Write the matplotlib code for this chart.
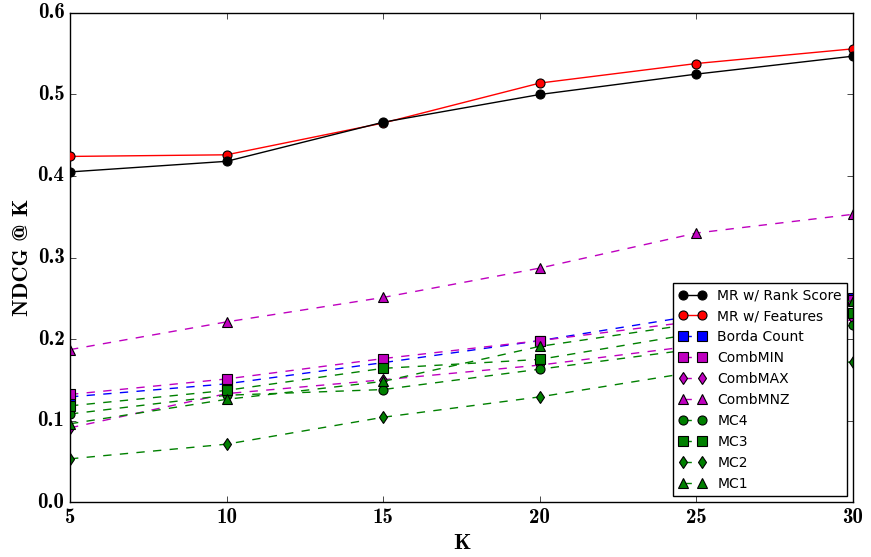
import matplotlib
matplotlib.use("Agg")
import matplotlib.pyplot as plt

plt.style.use('classic')
plt.rcParams['font.family'] = ['DejaVu Sans']
plt.rcParams['axes.formatter.useoffset'] = False

# data
K = [5, 10, 15, 20, 25, 30]
mr_rank = [0.405, 0.418, 0.466, 0.500, 0.525, 0.547]
mr_feat = [0.424, 0.426, 0.465, 0.514, 0.538, 0.556]
borda = [0.129, 0.145, 0.171, 0.198, 0.229, 0.250]
comb_min = [0.132, 0.151, 0.176, 0.198, 0.222, 0.248]
comb_max = [0.091, 0.133, 0.150, 0.168, 0.192, 0.224]
comb_mnz = [0.187, 0.221, 0.251, 0.287, 0.330, 0.353]
mc4 = [0.108, 0.131, 0.138, 0.163, 0.188, 0.217]
mc3 = [0.118, 0.137, 0.164, 0.175, 0.207, 0.232]
mc2 = [0.053, 0.071, 0.104, 0.129, 0.160, 0.172]
mc1 = [0.096, 0.126, 0.148, 0.191, 0.219, 0.247]
yticks = [0.0, 0.1, 0.2, 0.3, 0.4, 0.5, 0.6]

bold = ['cmb10', 'DejaVu Serif']

fig = plt.figure(figsize=(8.71, 5.57), dpi=100, facecolor='white')
ax = fig.add_axes([0.0804, 0.0987, 0.8989, 0.878])
ax.set_facecolor('white')

mk = dict(markersize=6.5, markeredgecolor='k', markeredgewidth=0.8)

ax.plot(K, mr_feat, 'r-', marker='o', label='MR w/ Features', zorder=3, **mk)
ax.plot(K, mr_rank, 'k-', marker='o', label='MR w/ Rank Score', zorder=4, **mk)
ax.plot(K, borda, 'b--', marker='s', label='Borda Count', **mk)
ax.plot(K, comb_min, 'm--', marker='s', label='CombMIN', **mk)
ax.plot(K, comb_max, 'm--', marker='d', label='CombMAX', **mk)
ax.plot(K, comb_mnz, 'm--', marker='^', label='CombMNZ', **mk)
ax.plot(K, mc4, 'g--', marker='o', label='MC4', **mk)
ax.plot(K, mc3, 'g--', marker='s', label='MC3', **mk)
ax.plot(K, mc2, 'g--', marker='d', label='MC2', **mk)
ax.plot(K, mc1, 'g--', marker='^', label='MC1', **mk)

ax.set_xlim(5, 30)
ax.set_ylim(0, 0.6)
ax.set_xticks(K)
ax.set_xticklabels([str(k) for k in K], family=bold, fontsize=15)
ax.set_yticks(yticks)
ax.set_yticklabels(['%.1f' % v for v in yticks], family=bold, fontsize=15)

ax.set_xlabel('K', family=bold, fontsize=16, labelpad=5)
ax.set_ylabel('NDCG @ K', family=bold, fontsize=16, labelpad=4)

handles, labels = ax.get_legend_handles_labels()
order = [1, 0, 2, 3, 4, 5, 6, 7, 8, 9]
leg = ax.legend([handles[i] for i in order], [labels[i] for i in order],
                loc='lower right', fontsize=10, numpoints=2,
                borderaxespad=0.4, labelspacing=0.5, fancybox=False)
leg.get_frame().set_edgecolor('k')

fig.savefig('out.png', dpi=100, facecolor='white')
